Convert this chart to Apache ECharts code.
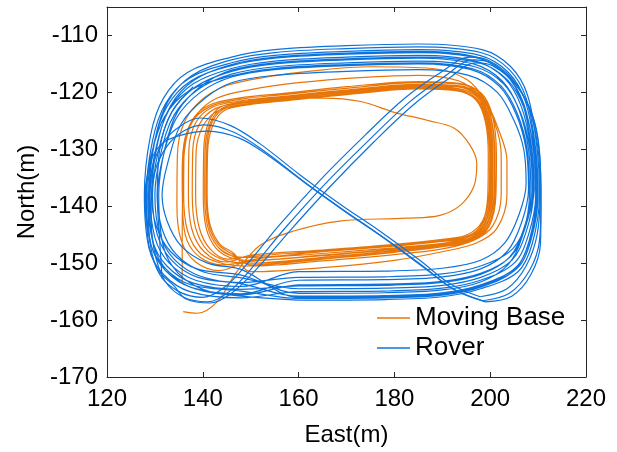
<!DOCTYPE html>
<html>
<head>
<meta charset="utf-8">
<script src="https://cdn.jsdelivr.net/npm/echarts@6/dist/echarts.min.js"></script>
<style>
html,body{margin:0;padding:0;background:#fff;}
#chart{width:617px;height:452px;}
</style>
</head>
<body>
<div id="chart"></div>
<script>
// ---- axis ticks ----
const eastTicks = [120, 140, 160, 180, 200, 220];
const northTicks = [-170, -160, -150, -140, -130, -120, -110];

// ---- Rover (blue) laps: [East, North] ----
const roverLap1 = [[160,-156.5],[178,-156.4],[190,-155.9],[198,-154.5],[205.8,-151.5],[208.8,-146.5],[210.3,-138],[209.8,-130],[207.8,-120.5],[204.3,-115.5],[198.3,-112.5],[185,-111.5],[170,-111.8],[155,-112.5],[146,-113.8],[136.8,-116.5],[131.8,-121],[129.1,-127.5],[127.8,-138],[128.8,-147.5],[131.8,-152],[137.3,-155],[148,-156.1]];
const roverLap2 = [[160,-155],[178,-154.9],[190,-154.4],[198,-153],[205,-150],[208,-145],[209.5,-138],[209,-130],[207,-122],[203.5,-117],[197.5,-114],[185,-113],[170,-113.3],[155,-114],[146,-115.3],[137.5,-118],[132.5,-122.5],[129.8,-129],[128.5,-138],[129.5,-146],[132.5,-150.5],[138,-153.5],[148,-154.6]];
const roverLap3 = [[160,-154],[178,-153.9],[190,-153.4],[198,-152],[204,-149],[207,-144],[208.5,-138],[208,-130],[206,-123],[202.5,-118],[196.5,-115],[185,-114],[170,-114.3],[155,-115],[146,-116.3],[138.5,-119],[133.5,-123.5],[130.8,-130],[129.5,-138],[130.5,-145],[133.5,-149.5],[139,-152.5],[148,-153.6]];
const roverLap4 = [[160,-155.8],[178,-155.7],[190,-155.2],[198,-153.8],[205.3,-150.8],[208.3,-145.8],[209.8,-138],[209.3,-130],[207.3,-121.5],[203.8,-116.5],[197.8,-113.5],[185,-112.5],[170,-112.8],[155,-113.5],[146,-114.8],[137.2,-117.5],[132.2,-122],[129.5,-128.5],[128.2,-138],[129.2,-146.8],[132.2,-151.3],[137.7,-154.3],[148,-155.4]];
const roverLap5 = [[160,-153],[178,-152.9],[190,-152.4],[198,-151],[203.5,-148],[206.5,-143],[208,-137],[207.5,-130],[205.5,-124],[202,-119],[196,-116],[185,-115],[170,-115.3],[155,-116],[146,-117.3],[139.5,-120],[134.5,-124.5],[131.8,-131],[130.5,-138],[131.5,-144],[134.5,-148.5],[140,-151.5],[148,-152.6]];
const roverLap6 = [[160,-154.5],[178,-154.4],[190,-153.9],[198,-152.5],[204.5,-149.5],[207.5,-144.5],[209,-138],[208.5,-130],[206.5,-122.5],[203,-117.5],[197,-114.5],[185,-113.5],[170,-113.8],[155,-114.5],[146,-115.8],[138,-118.5],[133,-123],[130.3,-129.5],[129,-138],[130,-145.5],[133,-150],[138.5,-153],[148,-154.1]];
const roverLap7 = [[160,-151.5],[178,-151.4],[190,-150.9],[198,-149.5],[203,-146.5],[206,-141.5],[207.5,-136],[207,-130],[205,-125],[201.5,-120],[195.5,-117],[185,-116],[170,-116.3],[155,-117],[146,-118.3],[140.5,-121],[135.5,-125.5],[132.8,-132],[131.5,-138],[132.5,-142.5],[135.5,-147],[141,-150],[148,-151.1]];
const roverLap8 = [[160,-156],[178,-155.9],[190,-155.4],[198,-154],[205.5,-151],[208.5,-146],[210,-138],[209.5,-130],[207.5,-121],[204,-116],[198,-113],[185,-112],[170,-112.3],[155,-113],[146,-114.3],[137.8,-117],[132.8,-121.5],[130.1,-128],[128.8,-138],[129.8,-147],[132.8,-151.5],[138.3,-154.5],[148,-155.6]];
const roverLap9 = [[160,-153.8],[178,-153.7],[190,-153.2],[198,-151.8],[204.3,-148.8],[207.3,-143.8],[208.8,-137.5],[208.3,-130],[206.3,-123.5],[202.8,-118.5],[196.8,-115.5],[185,-114.5],[170,-114.8],[155,-115.5],[146,-116.8],[139,-119.5],[134,-124],[131.3,-130.5],[130,-138],[131,-144.8],[134,-149.3],[139.5,-152.3],[148,-153.4]];
const roverLap10 = [[160,-152.5],[178,-152.4],[190,-151.9],[198,-150.5],[204.7,-147.5],[207.7,-142.5],[209.2,-137],[208.7,-130],[206.7,-121.8],[203.2,-116.8],[197.2,-113.8],[185,-112.8],[170,-113.1],[155,-113.8],[146,-115.1],[138.3,-117.8],[133.3,-122.3],[130.6,-128.8],[129.3,-138],[130.3,-143.5],[133.3,-148],[138.8,-151],[148,-152.1]];
const roverLap11 = [[160,-155.3],[178,-155.2],[190,-154.7],[198,-153.3],[203.7,-150.3],[206.7,-145.3],[208.2,-138],[207.7,-130],[205.7,-123.8],[202.2,-118.8],[196.2,-115.8],[185,-114.8],[170,-115.1],[155,-115.8],[146,-117.1],[137,-119.8],[132,-124.3],[129.3,-130.8],[128,-138],[129,-146.3],[132,-150.8],[137.5,-153.8],[148,-154.9]];
const roverLap12 = [[160,-156.2],[178,-156.1],[190,-155.6],[198,-154.2],[205.1,-151.2],[208.1,-146.2],[209.6,-138],[209.1,-130],[207.1,-122.8],[203.6,-117.8],[197.6,-114.8],[185,-113.8],[170,-114.1],[155,-114.8],[146,-116.1],[139.8,-118.8],[134.8,-123.3],[132.1,-129.8],[130.8,-138],[131.8,-147.2],[134.8,-151.7],[140.3,-154.7],[148,-155.8]];

// ---- Rover figure-eight passes ----
const roverEight1 = [[197.9,-155.9],[203.5,-154.5],[207.5,-150.5],[209.8,-145],[210.4,-138],[210,-130],[208.2,-123],[204.5,-117.5],[199.5,-114.3],[195.8,-113.8],[189.5,-116.6],[182.2,-121],[173.9,-127.5],[164.5,-135.4],[156.1,-143.2],[149.9,-149.5],[144.6,-154.2],[140,-156],[135,-155],[131,-152],[129,-146.5],[128.6,-140],[129.5,-133],[132,-128.5],[135.5,-125.8],[139.4,-124.5],[145.7,-125.8],[151.9,-129],[160.3,-134.5],[168.6,-139.6],[177,-144.4],[185.3,-149.5],[191.6,-153.6],[197.9,-155.9]];
const roverEight2 = [[198.5,-156.6],[204,-155.3],[208.2,-151.3],[210.3,-146],[210.6,-139],[210.3,-131],[208.8,-124],[205,-118.2],[200,-114.8],[196.5,-114.3],[190.3,-117.3],[183,-121.8],[174.8,-128.3],[165.4,-136.2],[157,-144],[150.8,-150.3],[145.5,-155],[141,-156.8],[136,-156],[132,-153],[129.8,-147.5],[129.2,-141],[130,-134],[132.5,-129.5],[136,-126.8],[140.2,-125.7],[146.5,-127],[152.8,-130.3],[161,-135.6],[169.3,-140.6],[177.6,-145.4],[185.8,-150.4],[192.2,-154.5],[198.5,-156.6]];
const roverEight3 = [[199,-156.8],[204.5,-155.8],[208.5,-152],[210.5,-146.5],[210.6,-139.5],[210.4,-131.5],[209,-124.5],[205.5,-118.8],[200.5,-115.3],[197,-114.8],[191,-117.8],[183.8,-122.3],[175.6,-128.8],[166.3,-136.8],[158,-144.5],[151.5,-150.8],[146,-155.3],[141.5,-157],[136.5,-156.3],[134,-154],[130.5,-151],[128.5,-145.5],[128.2,-139],[129,-132.5],[131.5,-129],[135.5,-127.5],[141,-126.8],[147.5,-128],[153.5,-131],[161.5,-136],[169.8,-141],[178,-145.7],[186.2,-150.8],[192.8,-154.8],[199,-156.8]];
const roverTail = [[138,-119],[133.5,-123.5],[131,-130],[130.5,-138],[131,-146],[131.5,-152.7]];

// ---- Moving Base (orange) ----
const baseStart = [[135.9,-158.5],[138.8,-158.8],[143,-156.8],[147.1,-151.5],[151.9,-146.9],[158.8,-144.4],[168.6,-142.6],[182.6,-142.1],[189.5,-141.6],[193.8,-139.8],[196.6,-136.5],[197.2,-132.5],[195.8,-129.3],[192.5,-126.3],[186.8,-124.9],[180,-123.5],[173,-121.6],[165,-121],[158,-121],[149,-121.8],[144,-122.8],[141.5,-125.5],[140.5,-130],[140.4,-138],[141,-143.5],[143,-147],[146,-148.7]];
const baseLapA1 = [[150,-149],[165,-148],[180,-147],[190,-146.2],[195.5,-145.4],[198.8,-143],[200.2,-138],[200.3,-131],[199.6,-125],[197.5,-121],[193,-119.3],[185,-119],[170,-120],[158,-121],[149,-121.8],[144,-122.8],[141.5,-125.5],[140.5,-130],[140.4,-138],[141,-143.5],[143,-147],[146,-148.7]];
const baseLapB1 = [[150,-150],[165,-149],[180,-147.8],[190,-146.8],[196,-145.8],[199.3,-143.3],[200.8,-138],[200.9,-131],[200.1,-124.5],[197.9,-120.5],[193.2,-118.8],[185,-118.6],[170,-119.6],[158,-120.6],[148,-121.5],[142,-122.6],[138.6,-125.2],[137.1,-130],[137,-138],[137.7,-144],[140.3,-148],[144.8,-149.8]];
const baseLapA2 = [[150,-148.6],[165,-147.7],[180,-146.7],[190,-145.8],[195.2,-145],[198.4,-142.6],[199.8,-137.5],[199.9,-131],[199.2,-125.3],[197.2,-121.4],[192.8,-119.7],[185,-119.4],[170,-120.4],[158,-121.4],[149.5,-122.2],[144.5,-123.2],[142,-126],[141,-130.5],[140.9,-138],[141.5,-143.2],[143.5,-146.6],[146.5,-148.3]];
const baseLapO1 = [[150,-151.5],[165,-150.8],[180,-149.5],[190,-148],[197,-146.5],[201.4,-143.9],[203.5,-138],[203.5,-132],[201.5,-126],[199,-121.5],[195.2,-117.8],[188,-115.8],[175,-115.5],[162,-116.3],[154,-117.2],[145,-118.8],[139.5,-121.5],[136,-125.5],[134.7,-131],[134.6,-140],[135.5,-146],[138.5,-149.8],[143.5,-151.3]];
const baseLapA3 = [[150,-149.4],[165,-148.3],[180,-147.3],[190,-146.5],[195.8,-145.7],[199.1,-143.3],[200.5,-138.3],[200.6,-131],[199.9,-124.8],[197.8,-120.7],[193.2,-119],[185,-118.7],[170,-119.7],[158,-120.8],[149,-121.6],[143.6,-122.6],[141.2,-125.3],[140.2,-130],[140.1,-138.3],[140.7,-143.8],[142.7,-147.3],[145.7,-149]];
const baseLapB2 = [[150,-149.5],[165,-148.6],[180,-147.5],[190,-146.5],[195.2,-145.5],[198.3,-143],[199.5,-138],[199.6,-131],[199,-125.2],[197,-121.3],[192.6,-119.6],[185,-119.3],[170,-120.3],[158,-121.3],[148.5,-122.2],[143,-123.3],[140,-126],[138.6,-130.5],[138.5,-138],[139.2,-143.6],[141.5,-147.5],[145.3,-149.3]];
const baseLapA4 = [[150,-148.8],[165,-147.9],[180,-146.9],[190,-146],[195.4,-145.2],[198.6,-142.8],[200,-137.8],[200.1,-131],[199.4,-125.1],[197.3,-121.2],[192.9,-119.5],[185,-119.2],[170,-120.2],[158,-121.2],[149.2,-122],[144.2,-123],[141.7,-125.7],[140.8,-130.2],[140.7,-138],[141.3,-143.4],[143.3,-146.8],[146.3,-148.5]];
const baseLapB3 = [[150,-150.3],[165,-149.3],[180,-148.1],[190,-147.1],[196.4,-146],[199.8,-143.5],[201.2,-138],[201.3,-131],[200.5,-124.2],[198.2,-120.2],[193.5,-118.4],[185,-118.1],[170,-119],[158,-120.1],[147.5,-121],[141.2,-122.3],[137.7,-125],[136.1,-130],[136,-138],[136.8,-144.3],[139.6,-148.4],[144.3,-150.1]];
const baseLapO2 = [[150,-150.5],[165,-149.6],[180,-148.5],[190,-147.5],[196.5,-146],[200.5,-143.5],[202.3,-138],[202.3,-131],[200.8,-125],[198,-120.8],[193.5,-118],[185,-117],[172.8,-117.4],[160,-118.3],[150,-119.5],[143,-121],[138.8,-123.8],[136.3,-128],[135.7,-134],[135.8,-141],[136.7,-146],[139.5,-149],[144,-150.3]];
const baseLapB4 = [[150,-149.7],[165,-148.7],[180,-147.6],[190,-146.6],[195.7,-145.6],[198.9,-143.1],[200.3,-138],[200.4,-131],[199.7,-124.7],[197.6,-120.8],[192.9,-119],[185,-118.8],[170,-119.8],[158,-120.8],[148.2,-121.8],[142.5,-122.9],[139.3,-125.6],[137.9,-130.2],[137.8,-138],[138.5,-143.8],[141,-147.8],[145,-149.6]];
const baseEnd = [[150,-150],[165,-149.2],[180,-148],[190,-147],[196,-146],[199.5,-143.5],[201,-138],[201,-131],[200.2,-124.5],[198,-120.3],[193.3,-118.5],[185,-118.3],[170,-119.3],[158,-120.3],[148,-121.2],[141.5,-122.5],[137.8,-125.2],[136.2,-130],[135.8,-138],[135.7,-146],[135.7,-153.5]];

const BLUE = '#0d73dc';
const ORANGE = '#e87508';
const AXIS = '#262626';

const baseData = [].concat(baseStart, baseLapA1, baseLapB1, baseLapA2, baseLapO1, baseLapA3, baseLapB2, baseLapA4, baseLapB3, baseLapO2, baseLapB4, baseEnd);
const roverData = [].concat(roverLap1, roverLap2, roverLap3, roverLap4, roverLap5, roverLap6, roverLap7, roverLap8, roverLap9, roverLap10, roverLap11, roverLap12, [roverLap1[0]]);

function lineSeries(name, data, color) {
  return {
    name: name, type: 'line', data: data, smooth: 0.35,
    showSymbol: false, symbol: 'none', silent: true, animation: false,
    lineStyle: { color: color, width: 1.2 }, itemStyle: { color: color }
  };
}

const font = 'Liberation Sans, Arial, sans-serif';
const chart = echarts.init(document.getElementById('chart'), null, { renderer: 'canvas' });
const axisCommon = {
  axisLine: { show: true, onZero: false, lineStyle: { color: AXIS, width: 1 } },
  axisTick: { show: true, inside: true, length: 5, lineStyle: { color: AXIS } },
  splitLine: { show: false }
};
chart.setOption({
  animation: false,
  backgroundColor: '#fff',
  grid: { left: 107, right: 31, top: 7, bottom: 74, containLabel: false },
  legend: {
    data: ['Moving Base', 'Rover'], orient: 'vertical', left: 372, top: 300,
    icon: 'rect', itemWidth: 33, itemHeight: 1.5, itemGap: 4,
    textStyle: { fontSize: 26, color: '#000', fontFamily: font }
  },
  xAxis: [
    Object.assign({ type: 'value', min: eastTicks[0], max: eastTicks[eastTicks.length - 1], interval: 20, position: 'bottom',
      name: 'East(m)', nameLocation: 'middle', nameGap: 46,
      nameTextStyle: { fontSize: 24, color: '#000', fontFamily: font },
      axisLabel: { fontSize: 24, color: '#000', margin: 10, fontFamily: font } }, axisCommon),
    Object.assign({ type: 'value', min: eastTicks[0], max: eastTicks[eastTicks.length - 1], interval: 20, position: 'top',
      axisLabel: { show: false } }, axisCommon)
  ],
  yAxis: [
    Object.assign({ type: 'value', min: northTicks[0], max: -105, interval: 10, position: 'left',
      name: 'North(m)', nameLocation: 'middle', nameGap: 66, nameRotate: 90,
      nameTextStyle: { fontSize: 24, color: '#000', fontFamily: font },
      axisLabel: { fontSize: 24, color: '#000', margin: 9, fontFamily: font, showMaxLabel: false,
        formatter: function (v) { return northTicks.indexOf(v) >= 0 ? String(v) : ''; } } }, axisCommon),
    Object.assign({ type: 'value', min: northTicks[0], max: -105, interval: 10, position: 'right',
      axisLabel: { show: false } }, axisCommon)
  ],
  series: [
    lineSeries('Moving Base', baseData, ORANGE),
    lineSeries('Rover', roverData, BLUE),
    lineSeries('Rover', roverEight1, BLUE),
    lineSeries('Rover', roverEight2, BLUE),
    lineSeries('Rover', roverEight3, BLUE),
    lineSeries('Rover', roverTail, BLUE)
  ]
});
</script>
</body>
</html>
